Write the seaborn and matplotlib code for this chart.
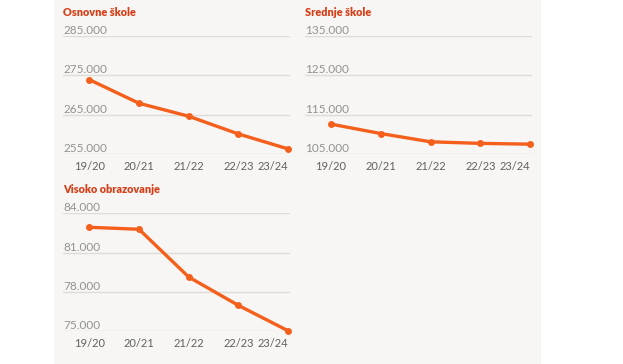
import matplotlib
matplotlib.use("Agg")
import matplotlib.pyplot as plt
import seaborn as sns
import pandas as pd

years = ["19/20", "20/21", "21/22", "22/23", "23/24"]
osnovne = [273900, 267900, 264600, 260100, 256300]
srednje = [112600, 110200, 108100, 107700, 107500]
visoko = [82930, 82780, 79130, 76960, 75020]

titles = ["Osnovne škole", "Srednje škole", "Visoko obrazovanje"]
yticks_list = [[255000, 265000, 275000, 285000],
               [105000, 115000, 125000, 135000],
               [75000, 78000, 81000, 84000]]

sns.set_theme(style="white")
plt.rcParams['font.family'] = ['Lato', 'DejaVu Sans']

W, H = 623, 364
fig = plt.figure(figsize=(W / 100, H / 100), dpi=100)
fig.patch.set_facecolor("white")

# panel background
bgax = fig.add_axes([54 / W, 0, (541 - 54) / W, 1], zorder=-10)
bgax.set_facecolor("#f7f6f4")
bgax.set_xticks([])
bgax.set_yticks([])
for s in bgax.spines.values():
    s.set_visible(False)

LINE = "#f4601c"
TITLE_C = "#d63d16"
GRID = "#dedcd9"
YLAB = "#929292"
XLAB = "#606060"

# (left px, right px, top px, bottom px, x at left, x at right)
boxes = [(63, 290, 36, 154, -0.53, 4.04),
         (305, 531.7, 36, 154, -0.52, 4.03),
         (63, 290, 213.3, 331, -0.53, 4.04)]
datas = [osnovne, srednje, visoko]

for i, (box, vals, ttl, yt) in enumerate(zip(boxes, datas, titles, yticks_list)):
    l, r, t, b, x0, x1 = box
    ax = fig.add_axes([l / W, (H - b) / H, (r - l) / W, (b - t) / H])
    ax.set_facecolor("none")
    df = pd.DataFrame({"x": range(len(years)), "v": vals})
    sns.lineplot(data=df, x="x", y="v", ax=ax, color=LINE, lw=2.4,
                 marker="o", markersize=5, markeredgewidth=0, clip_on=False, zorder=3)
    ax.set_xlim(x0, x1)
    ax.set_ylim(yt[0], yt[-1])
    ax.set_yticks(yt)
    ax.set_yticklabels([])
    ax.yaxis.grid(True, color=GRID, lw=1)
    ax.xaxis.grid(False)
    for s in ax.spines.values():
        s.set_visible(False)
    ax.tick_params(axis="both", length=0)
    ax.set_xticks(range(len(years)))
    ax.set_xticklabels(years, fontsize=8, color=XLAB)
    ax.tick_params(axis="x", pad=5)
    labs = ax.get_xticklabels()
    labs[-1].set_ha("right")
    ax.set_xlabel("")
    ax.set_ylabel("")
    for v in yt:
        ax.text(0, v, f"{v:,}".replace(",", "."), transform=ax.get_yaxis_transform(),
                ha="left", va="bottom", fontsize=8.5, color=YLAB)
    fig.text(l / W, 1 - (t - 24) / H, ttl, ha="left", va="center",
             fontsize=7.8, fontweight="heavy", color=TITLE_C)

fig.savefig("out.png", dpi=100)
